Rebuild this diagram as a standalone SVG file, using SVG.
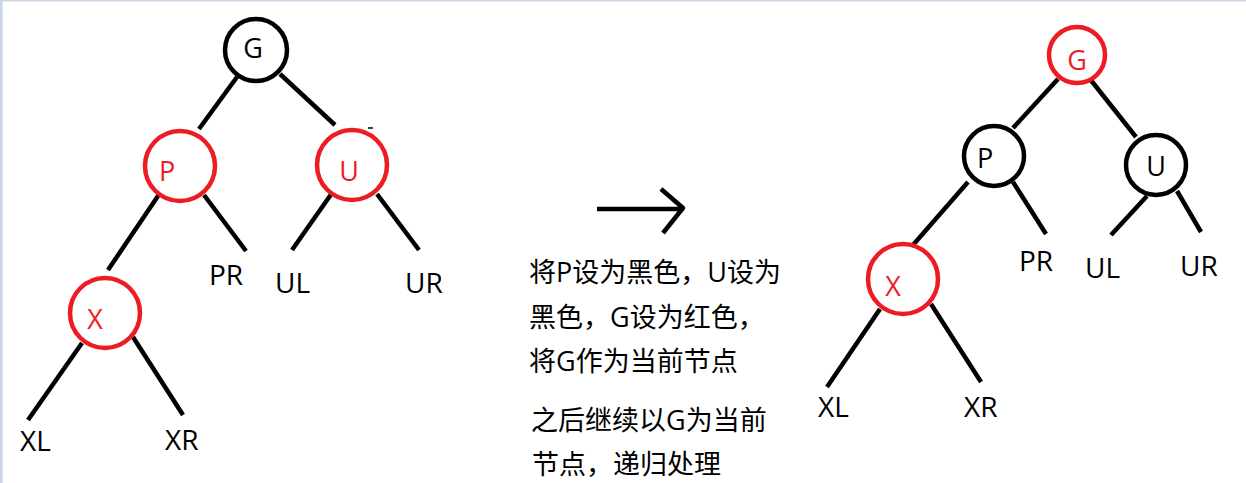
<svg xmlns="http://www.w3.org/2000/svg" width="1246" height="483" viewBox="0 0 1246 483">
<style>
.edge{stroke:#000;stroke-width:4.5;fill:none;stroke-linecap:butt}
.nb{fill:#fff;stroke:#000;stroke-width:4.5}
.nr{fill:#fff;stroke:#ed1c24;stroke-width:4.5}
.t{font-family:"Open Sans","Noto Sans",sans-serif;font-size:27px;fill:#000;text-anchor:middle}
.tr{fill:#ed1c24}
.lbl{font-family:"Open Sans","Noto Sans",sans-serif;font-size:28px;fill:#000}
.cn{font-family:"Open Sans","Noto Sans CJK SC",sans-serif;font-size:27px;fill:#000}
</style>
<rect x="0" y="0" width="1246" height="483" fill="#fff"/>
<rect x="0" y="0" width="1246" height="1.5" fill="#c8d3e5"/>
<rect x="0" y="0" width="2.5" height="483" fill="#c8d3e5"/>
<g id="connectors">
<line class="edge" x1="237" y1="77" x2="199" y2="129"/>
<line class="edge" x1="280" y1="74" x2="335" y2="125"/>
<line class="edge" x1="160" y1="193" x2="108" y2="270"/>
<line class="edge" x1="204" y1="195" x2="246" y2="251"/>
<line class="edge" x1="332" y1="193" x2="292" y2="250"/>
<line class="edge" x1="377" y1="194" x2="419" y2="250"/>
<line class="edge" x1="82" y1="343" x2="28" y2="420"/>
<line class="edge" x1="133" y1="337" x2="183" y2="415"/>
<line x1="368" y1="128" x2="373" y2="128" stroke="#000" stroke-width="1.5"/>
<line class="edge" x1="1058" y1="79" x2="1013" y2="128"/>
<line class="edge" x1="1090" y1="79" x2="1136" y2="137"/>
<line class="edge" x1="968" y1="182" x2="913" y2="245"/>
<line class="edge" x1="1013" y1="182" x2="1046" y2="234"/>
<line class="edge" x1="1147" y1="196" x2="1111" y2="235"/>
<line class="edge" x1="1177" y1="191" x2="1201" y2="232"/>
<line class="edge" x1="880" y1="309" x2="827" y2="387"/>
<line class="edge" x1="931" y1="304" x2="981" y2="382"/>
<path class="edge" d="M597 209 H683 M661 189 L683 208 L663 233" stroke-linecap="round" stroke-linejoin="round"/>
</g>
<g id="L_G"><circle class="nb" cx="256" cy="50" r="31"/><text class="t" x="253" y="58">G</text></g>
<g id="L_P"><circle class="nr" cx="180" cy="166" r="35"/><text class="t tr" x="167" y="181">P</text></g>
<g id="L_U"><circle class="nr" cx="352" cy="165" r="35"/><text class="t tr" x="349" y="181">U</text></g>
<g id="L_X"><circle class="nr" cx="105" cy="313" r="35"/><text class="t tr" x="95" y="329">X</text></g>
<g id="L_PR"><text class="lbl" x="209" y="285">PR</text></g>
<g id="L_UL"><text class="lbl" x="275" y="293">UL</text></g>
<g id="L_UR"><text class="lbl" x="405" y="293">UR</text></g>
<g id="L_XL"><text class="lbl" x="20" y="451">XL</text></g>
<g id="L_XR"><text class="lbl" x="165" y="450">XR</text></g>
<g id="caption">
<text class="cn" x="529" y="282">将P设为黑色，U设为</text>
<text class="cn" x="529" y="327">黑色，G设为红色，</text>
<text class="cn" x="529" y="371">将G作为当前节点</text>
<text class="cn" x="531" y="430">之后继续以G为当前</text>
<text class="cn" x="532" y="474">节点，递归处理</text>
</g>
<g id="R_G"><circle class="nr" cx="1077" cy="55" r="28"/><text class="t tr" x="1077" y="70">G</text></g>
<g id="R_P"><circle class="nb" cx="994" cy="156" r="30"/><text class="t" x="985" y="168">P</text></g>
<g id="R_U"><circle class="nb" cx="1156" cy="165" r="30"/><text class="t" x="1156" y="176">U</text></g>
<g id="R_X"><circle class="nr" cx="903" cy="279" r="35"/><text class="t tr" x="893" y="296">X</text></g>
<g id="R_PR"><text class="lbl" x="1019" y="271">PR</text></g>
<g id="R_UL"><text class="lbl" x="1085" y="278">UL</text></g>
<g id="R_UR"><text class="lbl" x="1180" y="276">UR</text></g>
<g id="R_XL"><text class="lbl" x="818" y="417">XL</text></g>
<g id="R_XR"><text class="lbl" x="964" y="417">XR</text></g>
</svg>
